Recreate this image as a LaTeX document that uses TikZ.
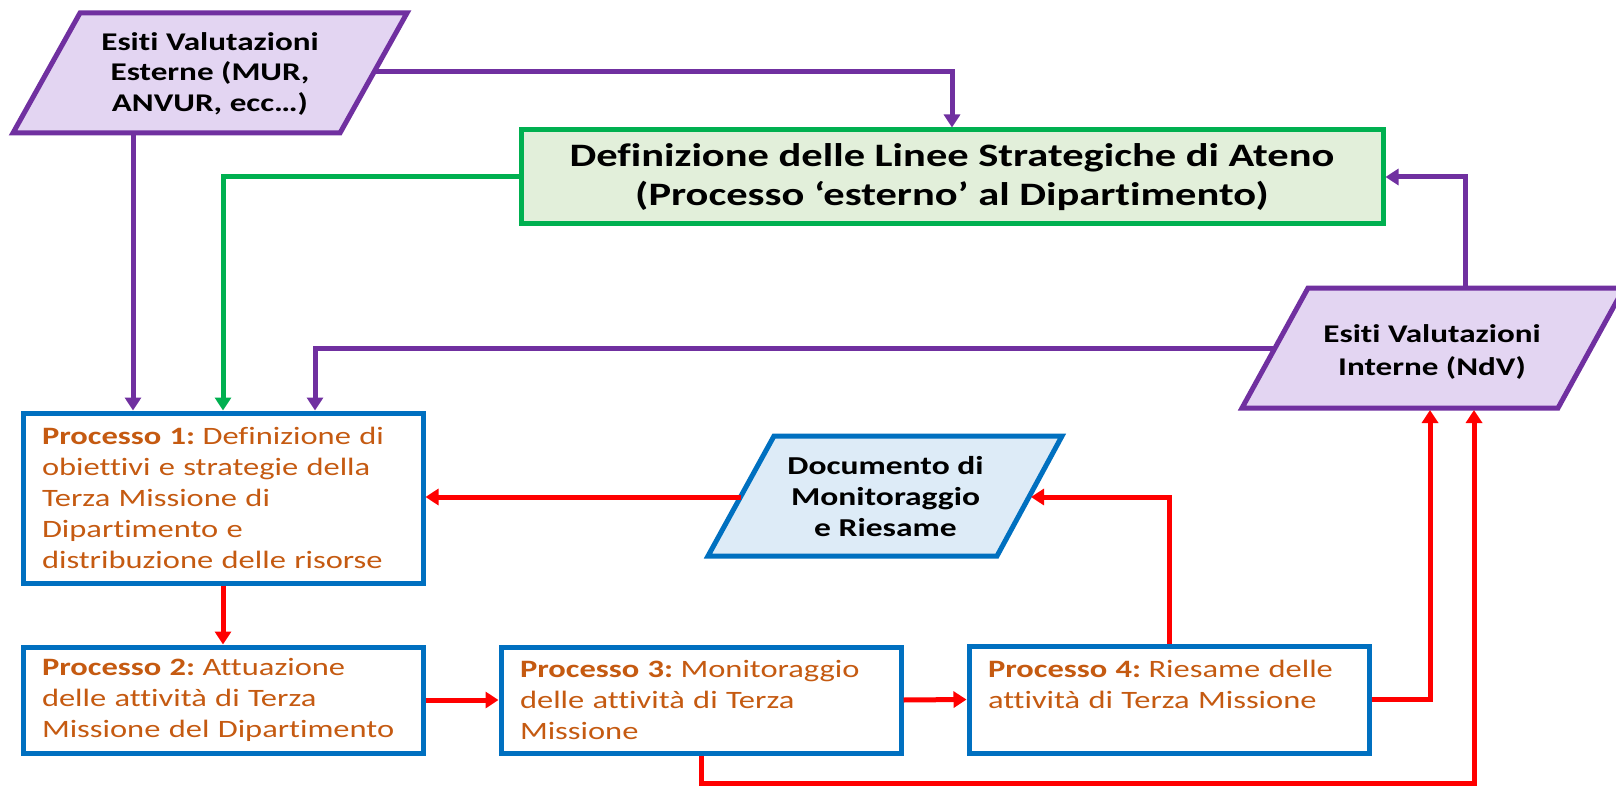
\documentclass[tikz,border=0pt]{standalone}
\usepackage{fontspec}
\setmainfont{Carlito}[FakeStretch=1.3, Ligatures=NoCommon]
\usetikzlibrary{arrows.meta}
\definecolor{purp}{HTML}{7030A0}
\definecolor{purpfill}{HTML}{E3D5F2}
\definecolor{grn}{HTML}{00B050}
\definecolor{grnfill}{HTML}{E2EFDA}
\definecolor{blu}{HTML}{0070C0}
\definecolor{blufill}{HTML}{DDEBF7}
\definecolor{orng}{HTML}{C55A11}
\definecolor{rd}{HTML}{FF0000}
\newcommand{\procname}[1]{\textbf{Processo #1:}\hspace{-5pt}}
\begin{document}
\begin{tikzpicture}[x=1pt,y=-1pt,
  every node/.style={inner sep=0pt},
  lbl/.style={align=center, text=black, font=\bfseries\fontsize{25.5}{30.5}\selectfont},
  pbox/.style={draw=blu, line width=5pt, fill=white, minimum width=400pt,
    text width=362pt, inner xsep=19pt, inner ysep=0pt, align=left, text=orng,
    font=\fontsize{25}{31}\selectfont},
  pshape/.style={draw=purp, fill=purpfill, line width=5pt, line join=miter},
  bshape/.style={draw=blu, fill=blufill, line width=5pt, line join=miter},
  conn/.style={line width=5pt, -{Triangle[length=13pt,width=16pt]}},
  pconn/.style={conn, draw=purp},
  gconn/.style={conn, draw=grn},
  rconn/.style={conn, draw=rd}
]
\useasboundingbox (0,0) rectangle (1616,786);
\fill[white] (0,0) rectangle (1616,786);

% Esiti Valutazioni Esterne
\draw[pshape] (80,13) -- (407,13) -- (340,133) -- (13,133) -- cycle;
\node[lbl] (est) at (210,73.5) {Esiti Valutazioni\\Esterne (MUR,\\ANVUR, ecc…)};
\coordinate (estR) at (374,72);
\coordinate (estB) at (133,133);

% Definizione delle Linee Strategiche
\node[draw=grn, fill=grnfill, line width=5pt, minimum width=862pt, minimum height=94pt,
  align=center, font=\bfseries\fontsize{32.7}{39.5}\selectfont] (grn) at (952,177)
  {Definizione delle Linee Strategiche di Ateno\\(Processo ‘esterno’ al Dipartimento)};

% Esiti Valutazioni Interne
\draw[pshape] (1308,288) -- (1624,288) -- (1558,408) -- (1242,408) -- cycle;
\node[lbl, font=\bfseries\fontsize{25.5}{33}\selectfont] (ndv) at (1432,351.5) {Esiti Valutazioni\\Interne (NdV)};
\coordinate (ndvL) at (1275,348);
\coordinate (ndvT) at (1465,288);
\coordinate (ndvB1) at (1430,410);
\coordinate (ndvB2) at (1474,410);

% Documento di Monitoraggio e Riesame
\draw[bshape] (774,436) -- (1062,436) -- (997,556) -- (708,556) -- cycle;
\node[lbl, font=\bfseries\fontsize{25.8}{31}\selectfont] (doc) at (885.5,496.5) {Documento di\\Monitoraggio\\e Riesame};
\coordinate (docL) at (741,497);
\coordinate (docR) at (1031,497);

% Processi
\node[pbox, minimum height=170pt] (p1) at (223,498)
  {\mbox{\procname{1} Definizione di}\\\mbox{obiettivi e strategie della}\\\mbox{Terza Missione di}\\\mbox{Dipartimento e}\\\mbox{distribuzione delle risorse}};
\node[pbox, minimum height=106pt] (p2) at (223,700)
  {\mbox{\procname{2} Attuazione}\\\mbox{delle attività di Terza}\\\mbox{Missione del Dipartimento}};
\node[pbox, minimum height=106pt] (p3) at (701,700)
  {\mbox{\procname{3} Monitoraggio}\\\mbox{delle attività di Terza}\\\mbox{Missione}};
\node[pbox, minimum height=107pt] (p4) at (1169,699.5)
  {\mbox{\procname{4} Riesame delle}\\\mbox{attività di Terza Missione}\\\mbox{}};

% Connectors
\draw[pconn] (estR) -| (grn.north);
\draw[pconn] (estB) -- (estB |- p1.north);
\draw[gconn] (grn.west) -| (p1.north);
\draw[pconn] (ndvL) -| ([xshift=92pt]p1.north);
\draw[pconn] (ndvT) |- (grn.east);
\draw[rconn] (p1.south) -- (p2.north);
\draw[rconn] (p2.east) -- (p3.west);
\draw[rconn] (p3.east) -- (p4.west);
\draw[rconn] (docL) -- (docL -| p1.east);
\draw[rconn] (p4.north) |- (docR);
\draw[rconn] (p4.east) -| (ndvB1);
\draw[rconn] (p3.south) -- ++(0,28) -| (ndvB2);
\end{tikzpicture}
\end{document}
